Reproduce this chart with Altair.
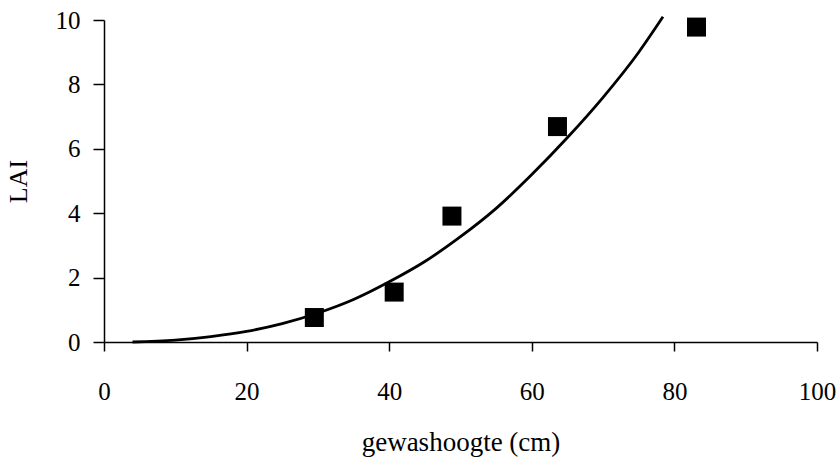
import altair as alt
import pandas as pd

# Measured points
pt_height = [29.5, 40.7, 48.8, 63.6, 83.1]
pt_lai = [0.76, 1.55, 3.91, 6.69, 9.78]

# Fitted curve
curve_height = [4, 10, 15, 20, 25, 30, 35, 40, 45, 50, 55, 60, 65, 70, 75, 78.4]
curve_lai = [0.0, 0.06, 0.17, 0.33, 0.57, 0.9, 1.32, 1.87, 2.5, 3.27, 4.15, 5.2, 6.35, 7.6, 9.0, 10.1]

x_ticks = [0, 20, 40, 60, 80, 100]
y_ticks = [0, 2, 4, 6, 8, 10]

pts = pd.DataFrame({"h": pt_height, "lai": pt_lai})
crv = pd.DataFrame({"h": curve_height, "lai": curve_lai})

FONT = "Liberation Serif"

xenc = alt.X(
    "h:Q",
    scale=alt.Scale(domain=[0, 100], nice=False, zero=False),
    axis=alt.Axis(
        values=x_ticks, title="gewashoogte (cm)", grid=False, labelFlush=False,
        tickSize=9, labelPadding=28, labelFontSize=25, labelFont=FONT,
        titleFont=FONT, titleFontSize=27, titleFontWeight="normal",
        titleY=100, titleBaseline="middle",
        domainColor="black", tickColor="black", labelColor="black", titleColor="black",
        domainWidth=1.5, tickWidth=1.5,
    ),
)
yenc = alt.Y(
    "lai:Q",
    scale=alt.Scale(domain=[0, 10], nice=False),
    axis=alt.Axis(
        values=y_ticks, title="LAI", grid=False, labelFlush=False,
        tickSize=11, labelPadding=13, labelFontSize=25, labelFont=FONT,
        titleFont=FONT, titleFontSize=26, titleFontWeight="normal",
        titleX=-86, titleY=161, titleAngle=-90, titleBaseline="middle", titleAlign="center",
        domainColor="black", tickColor="black", labelColor="black", titleColor="black",
        domainWidth=1.5, tickWidth=1.5,
    ),
)

line = alt.Chart(crv).mark_line(color="black", strokeWidth=2.8, interpolate="monotone").encode(
    x=xenc, y=yenc
)
points = alt.Chart(pts).mark_point(
    shape="square", filled=True, color="black", size=361, opacity=1
).encode(x="h:Q", y="lai:Q")

chart = (
    alt.layer(line, points)
    .properties(
        width=713, height=322,
        autosize=alt.AutoSizeParams(type="none"),
        padding={"left": 104, "top": 20, "right": 21, "bottom": 123},
        background="white",
    )
    .configure_view(stroke=None)
)

chart.save("out.html", embed_options={"renderer": "svg", "actions": False})
